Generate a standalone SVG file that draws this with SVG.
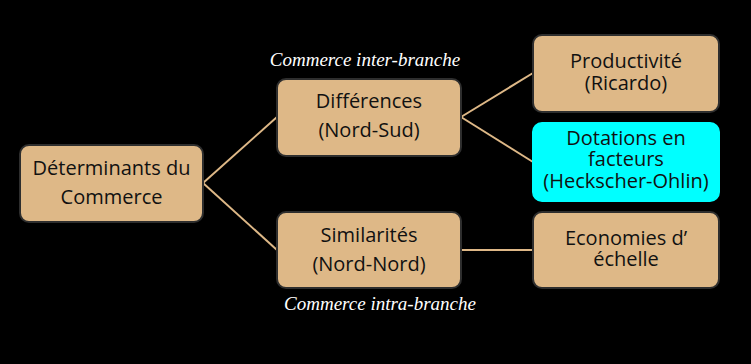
<svg xmlns="http://www.w3.org/2000/svg" width="751" height="364" viewBox="0 0 751 364">
<style>
.box{fill:#deb887;stroke:#2e2e2e;stroke-width:2}
.cyan{fill:#00ffff;stroke:#00ffff;stroke-width:2}
.t{font-family:"Open Sans","Noto Sans",sans-serif;font-size:20px;fill:#111;text-anchor:middle}
.lbl{font-family:"Liberation Serif",serif;font-style:italic;font-size:19px;fill:#fff;text-anchor:middle}
.c{stroke:#deb887;stroke-width:2;fill:none}
</style>
<rect width="751" height="364" fill="#000"/>
<g id="connectors">
<line class="c" x1="203" y1="183" x2="277" y2="117"/>
<line class="c" x1="203" y1="183" x2="277" y2="250"/>
<line class="c" x1="461" y1="117" x2="533" y2="73"/>
<line class="c" x1="461" y1="117" x2="533" y2="162"/>
<line class="c" x1="461" y1="250" x2="533" y2="250"/>
</g>
<g id="determinants">
<rect class="box" x="20" y="145" width="183" height="77" rx="9"/>
<text class="t" x="111.5" y="175">Déterminants du</text>
<text class="t" x="111.5" y="204">Commerce</text>
</g>
<g id="differences">
<rect class="box" x="277" y="79" width="184" height="77" rx="9"/>
<text class="t" x="369" y="108">Différences</text>
<text class="t" x="369" y="137">(Nord-Sud)</text>
</g>
<g id="similarites">
<rect class="box" x="277" y="212" width="184" height="76" rx="9"/>
<text class="t" x="369" y="242">Similarités</text>
<text class="t" x="369" y="271">(Nord-Nord)</text>
</g>
<g id="productivite">
<rect class="box" x="533" y="35" width="186" height="77" rx="9"/>
<text class="t" x="626" y="68">Productivité</text>
<text class="t" x="626" y="90">(Ricardo)</text>
</g>
<g id="dotations">
<rect class="cyan" x="533" y="123" width="186" height="78" rx="9"/>
<text class="t" x="626" y="145">Dotations en</text>
<text class="t" x="626" y="166">facteurs</text>
<text class="t" x="626" y="188">(Heckscher-Ohlin)</text>
</g>
<g id="economies">
<rect class="box" x="533" y="212" width="186" height="76" rx="9"/>
<text class="t" x="626" y="245">Economies d’</text>
<text class="t" x="626" y="266">échelle</text>
</g>
<g id="labels">
<text class="lbl" x="365" y="66">Commerce inter-branche</text>
<text class="lbl" x="380" y="310">Commerce intra-branche</text>
</g>
</svg>
